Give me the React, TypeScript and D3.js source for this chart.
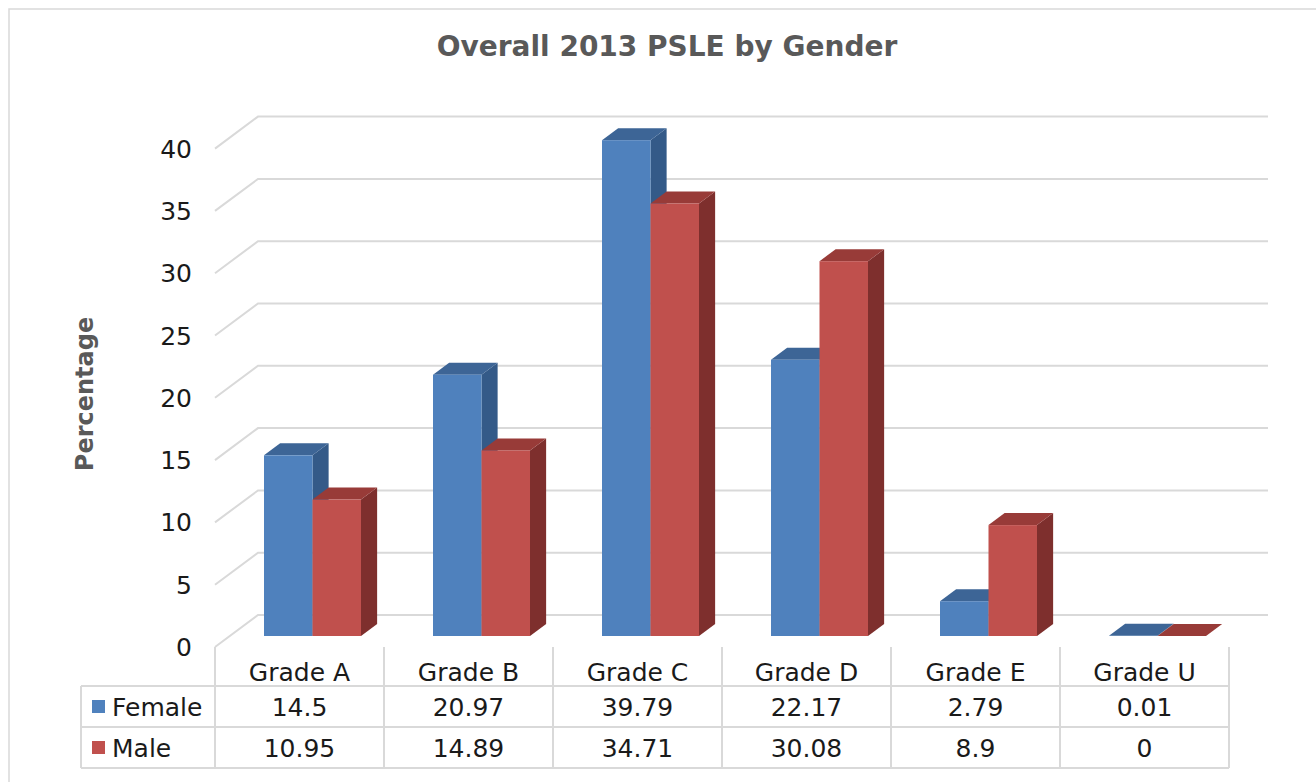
import * as d3 from 'd3';

const categories = ['Grade A', 'Grade B', 'Grade C', 'Grade D', 'Grade E', 'Grade U'];
const seriesNames = ['Female', 'Male'];
const femaleValues = [14.5, 20.97, 39.79, 22.17, 2.79, 0.01];
const maleValues = [10.95, 14.89, 34.71, 30.08, 8.9, 0];
const tableLabels = [
  ['14.5', '20.97', '39.79', '22.17', '2.79', '0.01'],
  ['10.95', '14.89', '34.71', '30.08', '8.9', '0'],
];
const yTicks = [0, 5, 10, 15, 20, 25, 30, 35, 40];

const W = 1316;
const H = 782;
const FONT = '"DejaVu Sans", sans-serif';

// floor geometry (front edge and how far the back wall is shifted)
const floorLeft = 215;
const floorRight = 1229;
const floorY = 647;
const depthX = 43;
const depthY = 32;
const barFront = 0.344; // depth fraction where bars start
const barDepth = 0.375;

const colors = {
  Female: { front: '#4f81bd', top: '#3d6596', side: '#345a88' },
  Male: { front: '#c0504d', top: '#983b38', side: '#7e2f2d' },
};
const gridColor = '#d9d9d9';

export default function App() {
  const x = d3.scaleBand<string>().domain(categories).range([floorLeft, floorRight]);
  const inner = d3.scaleBand<string>().domain(seriesNames).range([0, 97]);
  const h = d3.scaleLinear().domain([0, 40]).range([0, 498.4]);

  const fx = 13;
  const fy = floorY - barFront * depthY;
  const bdx = barDepth * depthX;
  const bdy = barDepth * depthY;

  const rows = [femaleValues, maleValues];

  const bars = categories.map((cat, ci) => {
    const gx = (x(cat) as number) + (x.bandwidth() - 97) / 2 + fx;
    return seriesNames.map((s, si) => {
      const v = rows[si][ci];
      const x0 = gx + (inner(s) as number);
      const w = inner.bandwidth();
      const top = fy - h(v);
      const c = colors[s as 'Female' | 'Male'];
      const topPts = [
        [x0, top], [x0 + w, top], [x0 + w + bdx, top - bdy], [x0 + bdx, top - bdy],
      ].map(p => p.join(',')).join(' ');
      const sidePts = [
        [x0 + w, top], [x0 + w + bdx, top - bdy], [x0 + w + bdx, fy - bdy], [x0 + w, fy],
      ].map(p => p.join(',')).join(' ');
      return (
        <g key={cat + s}>
          <polygon points={sidePts} fill={c.side} />
          <polygon points={topPts} fill={c.top} />
          <rect x={x0} y={top} width={w} height={h(v)} fill={c.front} />
        </g>
      );
    });
  });

  const rowY = [686, 727, 768];
  const legendX = 81;

  return (
    <svg width={W} height={H} style={{ position: 'absolute', left: 0, top: 0, background: '#fff' }}>
      <rect x={9} y={9} width={1400} height={900} fill="#fff" stroke={gridColor} strokeWidth={1.5} />

      <text x={667} y={56} textAnchor="middle" fontFamily={FONT} fontWeight="bold" fontSize={28} fill="#595959">
        Overall 2013 PSLE by Gender
      </text>

      <text transform="translate(93,394) rotate(-90)" textAnchor="middle" fontFamily={FONT} fontWeight="bold" fontSize={24} fill="#595959">
        Percentage
      </text>

      {/* gridlines: left wall diagonal + back wall */}
      {yTicks.map(t => {
        const yf = floorY - h(t);
        return (
          <g key={t}>
            <polyline
              points={`${floorLeft},${yf} ${floorLeft + depthX},${yf - depthY} ${floorRight + depthX - 4},${yf - depthY}`}
              fill="none" stroke={gridColor} strokeWidth={2} />
            <text x={192} y={yf + 9} textAnchor="end" fontFamily={FONT} fontSize={25} fill="#1a1a1a">{t}</text>
          </g>
        );
      })}

      {bars}

      {/* data table */}
      <g stroke={gridColor} strokeWidth={2}>
        {rowY.map(y => (
          <line key={y} x1={legendX} x2={floorRight} y1={y} y2={y} />
        ))}
        <line x1={legendX} x2={legendX} y1={rowY[0]} y2={rowY[2]} />
        {categories.map(cat => (
          <line key={cat} x1={x(cat)} x2={x(cat)} y1={floorY} y2={rowY[2]} />
        ))}
        <line x1={floorRight} x2={floorRight} y1={floorY} y2={rowY[2]} />
      </g>
      {categories.map(cat => (
        <text key={cat} x={(x(cat) as number) + x.bandwidth() / 2} y={681} textAnchor="middle" fontFamily={FONT} fontSize={25} fill="#1a1a1a">
          {cat}
        </text>
      ))}
      {seriesNames.map((s, si) => {
        const cy = (rowY[si] + rowY[si + 1]) / 2;
        return (
          <g key={s}>
            <rect x={92} y={cy - 6.5} width={13} height={13} fill={colors[s as 'Female' | 'Male'].front} />
            <text x={112} y={cy + 9} fontFamily={FONT} fontSize={25} fill="#1a1a1a">{s}</text>
            {categories.map((cat, ci) => (
              <text key={cat} x={(x(cat) as number) + x.bandwidth() / 2} y={cy + 9} textAnchor="middle" fontFamily={FONT} fontSize={25} fill="#1a1a1a">
                {tableLabels[si][ci]}
              </text>
            ))}
          </g>
        );
      })}
    </svg>
  );
}
